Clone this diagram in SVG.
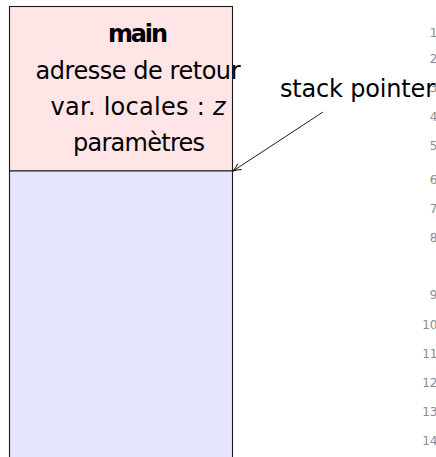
<svg xmlns="http://www.w3.org/2000/svg" width="436" height="457" viewBox="0 0 436 457">
  <style>
    .t { font-family: "DejaVu Sans", "Liberation Sans", sans-serif; font-size: 24px; fill: #000; }
    .b { font-weight: bold; }
    .ln { font-family: "DejaVu Sans", "Liberation Sans", sans-serif; font-size: 12px; fill: #8c8c8c; text-anchor: end; }
    .box { stroke: #1a1a1a; stroke-width: 1.1; }
  </style>
  <defs>
    <marker id="arr" viewBox="0 0 10 10" refX="9" refY="5" markerWidth="10" markerHeight="10" markerUnits="userSpaceOnUse" orient="auto">
      <path d="M1,1.5 Q5,4 9,5 Q5,6 1,8.5" fill="none" stroke="#000" stroke-width="0.9"/>
    </marker>
  </defs>
  <rect width="436" height="457" fill="#fff"/>
  <g id="line-numbers">
    <text class="ln" x="437.5" y="37">1</text>
    <text class="ln" x="437.5" y="63">2</text>
    <text class="ln" x="437.5" y="92">3</text>
    <text class="ln" x="437.5" y="121">4</text>
    <text class="ln" x="437.5" y="150">5</text>
    <text class="ln" x="437.5" y="184">6</text>
    <text class="ln" x="437.5" y="213">7</text>
    <text class="ln" x="437.5" y="242">8</text>
    <text class="ln" x="437.5" y="299">9</text>
    <text class="ln" x="437.5" y="329">10</text>
    <text class="ln" x="437.5" y="358">11</text>
    <text class="ln" x="437.5" y="387">12</text>
    <text class="ln" x="437.5" y="416">13</text>
    <text class="ln" x="437.5" y="445">14</text>
  </g>
  <g id="frame-main">
    <rect class="box" x="9.5" y="6.5" width="223" height="164.5" fill="#ffe5e5"/>
    <text class="t b" x="138" y="42" text-anchor="middle" textLength="60">main</text>
    <text class="t" x="138" y="79" text-anchor="middle" textLength="205">adresse de retour</text>
    <text class="t" x="138" y="115" text-anchor="middle" textLength="175">var. locales : <tspan font-style="italic">z</tspan></text>
    <text class="t" x="139" y="151" text-anchor="middle" textLength="132">paramètres</text>
  </g>
  <g id="free-area">
    <path class="box" d="M9.5,460 V171 H232.5 V460" fill="#e5e5ff"/>
  </g>
  <g id="stack-pointer-label">
    <text class="t" x="280" y="97" textLength="155">stack pointer</text>
  </g>
  <g id="connectors">
    <line x1="323" y1="112" x2="233" y2="171" stroke="#000" stroke-width="0.9" marker-end="url(#arr)"/>
  </g>
</svg>
